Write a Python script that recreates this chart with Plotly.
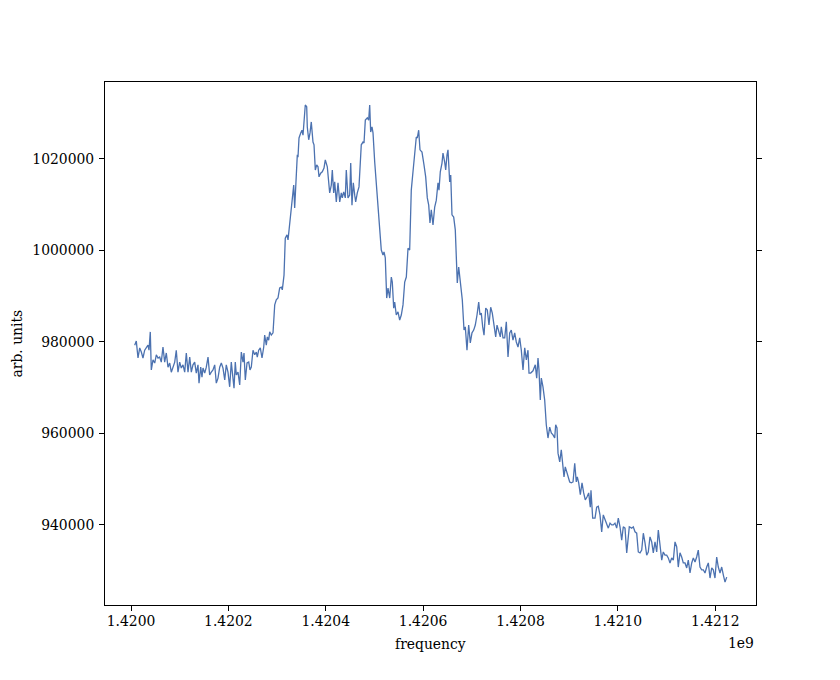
import plotly.graph_objects as go

# frequency in MHz
freq_mhz = [
1420.0076,1420.0109,1420.0144,1420.0179,1420.0212,1420.0246,1420.0281,1420.0314,1420.0349,1420.0370,
1420.0396,1420.0417,1420.0452,1420.0487,1420.0520,1420.0555,1420.0589,1420.0622,1420.0657,1420.0692,
1420.0725,1420.0760,1420.0795,1420.0828,1420.0863,1420.0898,1420.0930,1420.0965,1420.1000,1420.1033,
1420.1068,1420.1103,1420.1136,1420.1171,1420.1206,1420.1239,1420.1273,1420.1308,1420.1341,1420.1376,
1420.1397,1420.1432,1420.1458,1420.1479,1420.1514,1420.1547,1420.1582,1420.1616,1420.1649,1420.1684,
1420.1719,1420.1752,1420.1787,1420.1822,1420.1855,1420.1890,1420.1925,1420.1957,1420.1992,1420.2027,
1420.2060,1420.2095,1420.2116,1420.2142,1420.2163,1420.2198,1420.2233,1420.2266,1420.2300,1420.2321,
1420.2348,1420.2383,1420.2418,1420.2444,1420.2471,1420.2506,1420.2541,1420.2574,1420.2594,1420.2623,
1420.2656,1420.2691,1420.2726,1420.2746,1420.2779,1420.2800,1420.2828,1420.2849,1420.2882,1420.2917,
1420.2952,1420.2984,1420.3019,1420.3054,1420.3087,1420.3108,1420.3143,1420.3169,1420.3204,1420.3225,
1420.3260,1420.3293,1420.3327,1420.3342,1420.3362,1420.3395,1420.3416,1420.3430,1420.3451,1420.3486,
1420.3512,1420.3533,1420.3553,1420.3580,1420.3609,1420.3621,1420.3650,1420.3677,1420.3703,1420.3738,
1420.3759,1420.3786,1420.3814,1420.3841,1420.3862,1420.3896,1420.3929,1420.3964,1420.3991,1420.4032,
1420.4081,1420.4114,1420.4135,1420.4163,1420.4184,1420.4217,1420.4252,1420.4287,1420.4320,1420.4340,
1420.4369,1420.4402,1420.4422,1420.4457,1420.4492,1420.4513,1420.4539,1420.4566,1420.4595,1420.4615,
1420.4648,1420.4683,1420.4730,1420.4765,1420.4786,1420.4813,1420.4854,1420.4882,1420.4903,1420.4923,
1420.4950,1420.4971,1420.5006,1420.5039,1420.5073,1420.5108,1420.5141,1420.5176,1420.5197,1420.5223,
1420.5252,1420.5279,1420.5314,1420.5347,1420.5367,1420.5396,1420.5416,1420.5449,1420.5484,1420.5519,
1420.5552,1420.5587,1420.5622,1420.5655,1420.5690,1420.5724,1420.5757,1420.5792,1420.5827,1420.5860,
1420.5881,1420.5909,1420.5936,1420.5977,1420.6018,1420.6053,1420.6086,1420.6115,1420.6141,1420.6168,
1420.6203,1420.6238,1420.6271,1420.6306,1420.6326,1420.6353,1420.6388,1420.6408,1420.6443,1420.6464,
1420.6491,1420.6511,1420.6546,1420.6567,1420.6593,1420.6628,1420.6661,1420.6682,1420.6702,1420.6731,
1420.6764,1420.6805,1420.6840,1420.6867,1420.6901,1420.6936,1420.6969,1420.7004,1420.7039,1420.7072,
1420.7107,1420.7142,1420.7168,1420.7195,1420.7224,1420.7251,1420.7286,1420.7318,1420.7353,1420.7388,
1420.7421,1420.7456,1420.7491,1420.7518,1420.7553,1420.7585,1420.7606,1420.7641,1420.7676,1420.7709,
1420.7744,1420.7779,1420.7811,1420.7846,1420.7881,1420.7914,1420.7949,1420.7984,1420.8017,1420.8052,
1420.8087,1420.8120,1420.8154,1420.8175,1420.8210,1420.8257,1420.8304,1420.8333,1420.8360,1420.8380,
1420.8407,1420.8428,1420.8462,1420.8497,1420.8530,1420.8565,1420.8600,1420.8633,1420.8668,1420.8703,
1420.8723,1420.8750,1420.8771,1420.8806,1420.8838,1420.8873,1420.8894,1420.8920,1420.8949,1420.8976,
1420.9011,1420.9044,1420.9079,1420.9114,1420.9146,1420.9167,1420.9196,1420.9229,1420.9264,1420.9298,
1420.9331,1420.9366,1420.9401,1420.9434,1420.9448,1420.9483,1420.9531,1420.9565,1420.9598,1420.9633,
1420.9668,1420.9701,1420.9736,1420.9771,1420.9804,1420.9839,1420.9874,1420.9906,1420.9941,1420.9976,
1421.0009,1421.0044,1421.0079,1421.0112,1421.0147,1421.0182,1421.0214,1421.0235,1421.0284,1421.0317,
1421.0352,1421.0387,1421.0420,1421.0455,1421.0490,1421.0523,1421.0558,1421.0592,1421.0625,1421.0660,
1421.0695,1421.0728,1421.0763,1421.0798,1421.0831,1421.0866,1421.0901,1421.0933,1421.0968,1421.1003,
1421.1036,1421.1071,1421.1106,1421.1139,1421.1174,1421.1209,1421.1241,1421.1276,1421.1311,1421.1344,
1421.1379,1421.1414,1421.1447,1421.1482,1421.1517,1421.1550,1421.1585,1421.1619,1421.1652,1421.1687,
1421.1722,1421.1755,1421.1790,1421.1825,1421.1858,1421.1893,1421.1928,1421.1960,1421.1995,1421.2030,
1421.2063,1421.2098,1421.2133,1421.2166,1421.2201,1421.2236,
]

# signal, arbitrary units
power = [
979300,980200,976500,978700,977800,976500,978200,978900,979300,978200,
982200,973900,976100,975400,977200,976500,976700,975600,978900,975600,
977600,974500,975400,973400,974300,975600,978200,973400,975600,974300,
975000,973400,977600,973400,976700,973400,975000,975600,973200,975000,
971000,974500,972300,974300,973200,974500,976700,972800,973400,973900,
975000,971000,972100,974500,975400,974300,971700,975000,973400,970200,
975600,972100,969900,975600,972800,973400,970600,977800,975600,977600,
971700,975400,975600,973900,974500,978200,977200,977800,976700,978200,
978700,976500,978900,981500,979300,981100,980400,982200,981500,982000,
988100,989200,989600,991800,992000,991400,994600,1002700,1003400,1002300,
1006200,1008400,1012800,1014300,1009300,1015800,1020900,1020400,1024600,1025700,
1026300,1025200,1028100,1031800,1031400,1027000,1024200,1025700,1028100,1023700,
1023100,1017600,1018700,1018300,1016100,1016900,1017200,1018000,1019800,1018300,
1012600,1014300,1017600,1012600,1015000,1010600,1014800,1010600,1012600,1011500,
1012800,1011500,1017600,1011500,1012100,1019100,1009900,1014800,1012100,1010600,
1012600,1013900,1023100,1023700,1023500,1028500,1029000,1028500,1031800,1025900,
1027000,1025700,1019300,1014300,1011500,1006200,1000100,999000,999700,998400,
989600,991800,989600,994200,993100,987400,988700,985900,986600,984800,
985900,988100,993100,994200,1000500,1000100,1013200,1017200,1022000,1024800,
1024600,1026300,1022000,1021500,1018700,1016100,1011500,1009900,1006000,1008900,
1005600,1009500,1011000,1014800,1013200,1017200,1019100,1021300,1019300,1017600,
1020900,1022000,1015000,1016500,1007800,1007300,1004500,996400,992900,996400,
993500,989200,982600,983300,978200,983700,979800,982000,982600,983700,
985900,988700,985900,986300,983300,981500,987400,987000,983700,987600,
986300,983300,981100,983700,982600,981100,983300,980900,980900,984400,
976700,982000,982600,980400,982000,980000,978900,980900,978200,973900,
978700,976100,978200,973200,973200,973700,975000,972100,976500,973900,
967300,972100,970200,967300,961900,959000,961400,960100,959700,959000,
961900,961200,955700,953800,956400,953500,950500,952700,951600,950300,
949400,949200,949400,953500,949400,950500,949200,946600,949200,947000,
945500,946100,947000,943900,947600,941500,941500,943900,944100,942200,
938500,942200,941100,940000,939300,940400,940000,940000,940400,939300,
941500,939600,936700,939600,939300,933900,938200,939600,939300,939600,
938500,938200,934100,933900,934500,938200,936100,933400,934100,937400,
936300,933900,936300,934100,938900,936100,932300,934100,933400,933400,
932800,931700,932800,932300,936300,935200,930800,933900,933000,931700,
931700,930600,932300,929500,931700,932800,931900,933000,934500,930800,
930200,930200,929500,930800,931700,928400,930600,930200,928400,933000,
930800,929500,930800,929100,927500,928600,
]

x_tick_values = [1.4200e9, 1.4202e9, 1.4204e9, 1.4206e9, 1.4208e9, 1.4210e9, 1.4212e9]
x_tick_labels = ["1.4200", "1.4202", "1.4204", "1.4206", "1.4208", "1.4210", "1.4212"]
y_tick_values = [940000, 960000, 980000, 1000000, 1020000]
y_tick_labels = ["940000", "960000", "980000", "1000000", "1020000"]

freq_hz = [f * 1e6 for f in freq_mhz]

FONT = "DejaVu Serif"
FS = 13.9

fig = go.Figure()
fig.add_trace(go.Scatter(
    x=freq_hz, y=power, mode="lines",
    line=dict(color="#4C72B0", width=1.3),
    hoverinfo="skip", showlegend=False,
))

# page body has an 8px margin, so the figure is 824x664 placed at (8, 8)
fig.update_layout(
    width=824, height=664,
    margin=dict(l=97, r=76, t=74, b=67),
    paper_bgcolor="white", plot_bgcolor="white",
    font=dict(family=FONT, size=FS, color="black"),
    showlegend=False,
)

fig.update_xaxes(
    range=[1419946600, 1421283750],
    tickmode="array", tickvals=x_tick_values, ticktext=x_tick_labels,
    ticks="outside", ticklen=5, tickwidth=1, tickcolor="black",
    ticklabelstandoff=-2,
    showline=True, linecolor="black", linewidth=1, mirror=True,
    showgrid=False, zeroline=False,
    tickfont=dict(family=FONT, size=FS, color="black"),
)
fig.update_yaxes(
    range=[922504, 1036830],
    tickmode="array", tickvals=y_tick_values, ticktext=y_tick_labels,
    ticks="outside", ticklen=5, tickwidth=1, tickcolor="black",
    ticklabelstandoff=2,
    showline=True, linecolor="black", linewidth=1, mirror="ticks",
    showgrid=False, zeroline=False,
    tickfont=dict(family=FONT, size=FS, color="black"),
)

# axis labels and offset text
fig.add_annotation(text="frequency", xref="paper", yref="paper", x=0.5, y=0,
                   yshift=-39, xanchor="center", yanchor="middle", showarrow=False,
                   font=dict(family=FONT, size=FS, color="black"))
fig.add_annotation(text="1e9", xref="paper", yref="paper", x=1, y=0,
                   yshift=-38, xanchor="right", yanchor="middle", showarrow=False,
                   font=dict(family=FONT, size=FS, color="black"))
fig.add_annotation(text="arb. units", xref="paper", yref="paper", x=0, y=0.5,
                   xshift=-89, xanchor="center", yanchor="middle", textangle=-90,
                   showarrow=False, font=dict(family=FONT, size=FS, color="black"))

fig.write_html("out.html")
